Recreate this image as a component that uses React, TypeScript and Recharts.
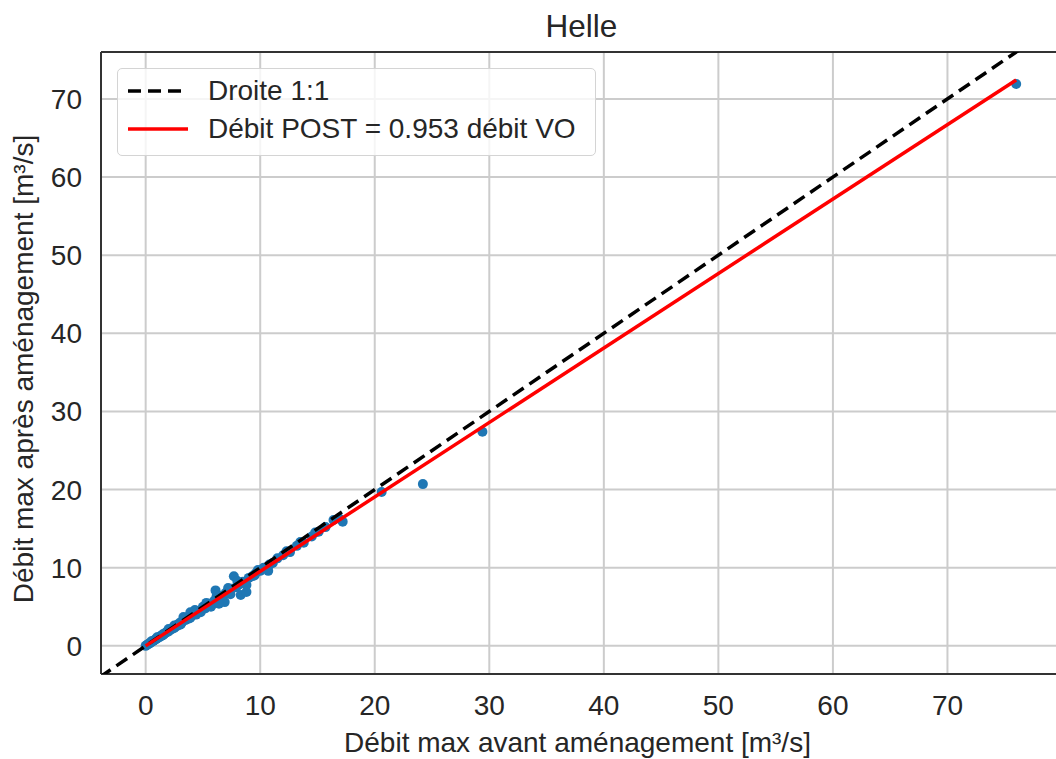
import { CartesianGrid, Label, ReferenceLine, Scatter, ScatterChart, XAxis, YAxis } from "recharts";

const X_TICKS = [0, 10, 20, 30, 40, 50, 60, 70];
const Y_TICKS = [0, 10, 20, 30, 40, 50, 60, 70];
const X_DOMAIN = [-3.9, 80];
const Y_DOMAIN = [-3.6, 76.0];

// débit max avant (VO) / après (POST) aménagement
const DEBIT_VO = [
  0.0, 0.1, 0.2, 0.3, 0.4, 0.5, 0.6, 0.7, 0.8, 0.9, 1.0, 1.1, 1.2, 1.3, 1.4, 1.5, 1.6, 1.7, 1.8, 1.9,
  2.0, 2.1, 2.2, 2.3, 2.4, 2.5, 2.6, 2.7, 2.8, 2.9, 3.0, 3.1, 3.2, 3.3, 3.5, 3.6, 3.8, 3.9, 4.0, 4.2,
  4.4, 4.5, 4.7, 4.9, 5.0, 5.2, 5.4, 5.6, 5.8, 6.0, 6.1, 6.3, 6.5, 6.7, 6.9, 7.0, 7.3, 7.5, 7.7, 7.9,
  8.1, 8.3, 8.5, 8.8, 8.8, 9.0, 9.3, 9.6, 10.0, 10.3, 10.7, 11.1, 11.5, 12.0, 12.6, 13.2, 13.8, 14.5,
  15.1, 15.7, 16.4, 16.9, 17.2, 20.6, 24.2, 29.4, 76.0,
  0.5, 1.0, 1.5, 2.0, 2.5, 3.0, 3.4, 3.9, 4.3, 4.8, 5.3, 5.7, 6.2, 6.4, 7.2, 7.4, 8.0, 8.6, 9.5, 9.8,
  10.8, 12.3, 13.5, 14.8,
];
const DEBIT_POST = [
  0.0, 0.1, 0.2, 0.28, 0.4, 0.47, 0.6, 0.66, 0.78, 0.85, 0.95, 1.08, 1.1, 1.25, 1.3, 1.48, 1.5, 1.65, 1.7, 1.85,
  1.85, 2.05, 2.1, 2.15, 2.35, 2.3, 2.55, 2.5, 2.75, 2.7, 3.0, 2.85, 3.1, 3.7, 3.3, 3.6, 3.5, 4.3, 3.8, 4.1,
  4.0, 4.4, 4.5, 4.6, 5.0, 4.8, 5.2, 5.4, 5.3, 5.8, 7.1, 6.0, 5.6, 6.4, 5.6, 6.8, 6.9, 7.3, 8.9, 7.5,
  7.8, 6.5, 8.2, 6.9, 7.8, 8.7, 8.9, 9.3, 9.6, 10.0, 9.6, 10.6, 11.2, 11.6, 12.0, 12.8, 13.2, 14.0,
  14.6, 15.2, 16.1, 16.3, 15.9, 19.7, 20.7, 27.4, 71.9,
  0.6, 1.1, 1.35, 2.15, 2.6, 2.7, 3.5, 3.6, 4.6, 4.3, 5.5, 5.0, 6.4, 5.4, 7.4, 6.6, 8.3, 8.0, 9.0, 9.7,
  10.4, 12.1, 13.3, 14.5,
];
const SLOPE = 0.953;
const FIT_RANGE = [0, 76.0];
const DIAG_RANGE = [-4, 80];

const points = DEBIT_VO.map((x, i) => ({ x, y: DEBIT_POST[i] }));
const fitLine = FIT_RANGE.map((x) => ({ x, y: SLOPE * x }));
const diagLine = DIAG_RANGE.map((v) => ({ x: v, y: v }));

const FONT = "'Liberation Sans', Arial, sans-serif";
const TEXT = "#262626";

const noDot = () => <g />;
const dot = (p: any) => <circle cx={p.cx} cy={p.cy} r={5} fill="#1f77b4" />;

export default function App() {
  return (
    <div
      style={{
        position: "absolute",
        left: 0,
        top: 0,
        width: 1056,
        height: 759,
        overflow: "hidden",
        background: "#fff",
        fontFamily: FONT,
      }}
    >
      <ScatterChart width={1064} height={759} margin={{ top: 52, right: 2, bottom: 0, left: 0 }}>
        <CartesianGrid stroke="#cccccc" strokeWidth={2} />
        <XAxis
          type="number"
          dataKey="x"
          domain={X_DOMAIN}
          ticks={X_TICKS}
          allowDataOverflow
          height={85}
          tickLine={false}
          tickMargin={15}
          axisLine={{ stroke: "#333", strokeWidth: 2 }}
          tick={{ fontSize: 28, fill: TEXT, fontFamily: FONT }}
        >
          <Label
            content={(props: any) => {
              const vb = props.viewBox;
              return (
                <text
                  x={vb.x + vb.width / 2 - 4}
                  y={vb.y + 78}
                  textAnchor="middle"
                  fontSize={28}
                  fill={TEXT}
                  fontFamily={FONT}
                >
                  Débit max avant aménagement [m³/s]
                </text>
              );
            }}
          />
        </XAxis>
        <YAxis
          type="number"
          dataKey="y"
          domain={Y_DOMAIN}
          ticks={Y_TICKS}
          allowDataOverflow
          width={101}
          tickLine={false}
          tickMargin={13}
          axisLine={{ stroke: "#333", strokeWidth: 2 }}
          tick={{ fontSize: 28, fill: TEXT, fontFamily: FONT }}
        >
          <Label
            content={(props: any) => {
              const vb = props.viewBox;
              const cx = 33;
              const cy = vb.y + vb.height / 2 + 6;
              return (
                <text
                  x={cx}
                  y={cy}
                  transform={`rotate(-90, ${cx}, ${cy})`}
                  textAnchor="middle"
                  fontSize={28}
                  fill={TEXT}
                  fontFamily={FONT}
                >
                  Débit max après aménagement [m³/s]
                </text>
              );
            }}
          />
        </YAxis>
        <ReferenceLine y={Y_DOMAIN[1]} stroke="#333" strokeWidth={2} />
        <Scatter data={points} fill="#1f77b4" isAnimationActive={false} shape={dot} />
        <Scatter
          data={diagLine}
          line={{ stroke: "#000", strokeWidth: 3.5, strokeDasharray: "13 7" }}
          shape={noDot}
          isAnimationActive={false}
        />
        <Scatter
          data={fitLine}
          line={{ stroke: "#ff0000", strokeWidth: 3.5 }}
          shape={noDot}
          isAnimationActive={false}
        />
      </ScatterChart>

      <div
        style={{
          position: "absolute",
          left: 0,
          top: 8,
          width: 1163,
          textAlign: "center",
          fontSize: 31.5,
          color: TEXT,
          lineHeight: "36px",
        }}
      >
        Helle
      </div>

      <div
        style={{
          position: "absolute",
          left: 117,
          top: 68,
          width: 479,
          height: 88,
          boxSizing: "border-box",
          border: "1.5px solid #d4d4d4",
          borderRadius: 5,
          background: "rgba(255,255,255,0.8)",
          color: TEXT,
          fontSize: 28,
        }}
      >
        {[
          { label: "Droite 1:1", color: "#000", dash: "13 7", y: 22 },
          { label: "Débit POST = 0.953 débit VO", color: "#ff0000", dash: undefined, y: 60 },
        ].map((it) => (
          <div key={it.label} style={{ position: "absolute", left: 0, top: it.y - 16, height: 32, display: "flex", alignItems: "center" }}>
            <svg width={90} height={32} style={{ display: "block" }}>
              <line x1={10} x2={70} y1={16} y2={16} stroke={it.color} strokeWidth={3.5} strokeDasharray={it.dash} />
            </svg>
            <span style={{ lineHeight: "32px" }}>{it.label}</span>
          </div>
        ))}
      </div>
    </div>
  );
}
